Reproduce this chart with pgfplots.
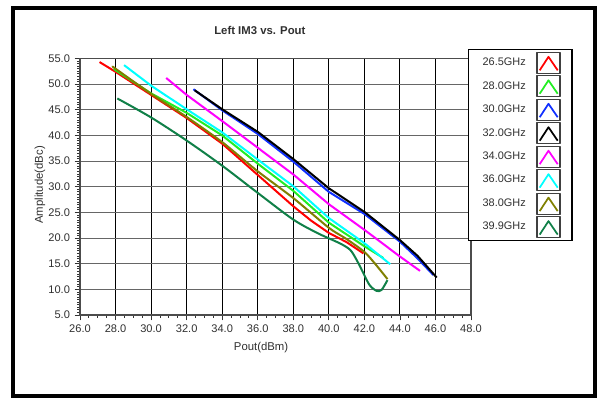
\documentclass[border=0pt]{standalone}
\usepackage{pgfplots}
\pgfplotsset{compat=1.18}
\usepackage{fontspec}
\setmainfont{Liberation Sans}
\definecolor{c1}{HTML}{FF0000}
\definecolor{c2}{HTML}{22EE22}
\definecolor{c3}{HTML}{1030FF}
\definecolor{c4}{HTML}{000000}
\definecolor{c5}{HTML}{FF00FF}
\definecolor{c6}{HTML}{00FFFF}
\definecolor{c7}{HTML}{808000}
\definecolor{c8}{HTML}{108048}
\definecolor{txt}{HTML}{303030}
\begin{document}
\begin{tikzpicture}
\path[use as bounding box] (0pt,0pt) rectangle (448.5pt,298.5pt);
\fill[white] (0pt,0pt) rectangle (448.5pt,298.5pt);
\draw[black, line width=3pt] (9.75pt,1.5pt) rectangle (446.6pt,292.3pt);
\begin{axis}[
  at={(60pt,62.25pt)}, anchor=south west,
  width=293.25pt, height=192.4pt, scale only axis,
  xmin=26, xmax=48, ymin=5, ymax=55,
  xtick={26,28,...,48}, ytick={5,10,...,55},
  minor x tick num=3, minor y tick num=9,
  xmajorgrids, ymajorgrids,
  x grid style={black, line width=0.7pt},
  y grid style={black!60, line width=0.75pt},
  tick align=outside, tick pos=left,
  major tick length=4pt, minor tick length=2pt,
  every tick/.style={black!80, line width=0.6pt},
  axis line style={black!70, line width=0.8pt},
  /pgf/number format/assume math mode=true,
  xticklabel style={/pgf/number format/fixed, /pgf/number format/fixed zerofill, /pgf/number format/precision=1},
  yticklabel style={/pgf/number format/fixed, /pgf/number format/fixed zerofill, /pgf/number format/precision=1},
  ticklabel style={font=\fontsize{8.3}{10}\selectfont, text=txt},
  title={Left IM3 vs. Pout},
  title style={font=\bfseries\fontsize{8.5}{10}\selectfont, text=txt, at={(axis description cs:0.46,1.078)}, anchor=center},
  xlabel={Pout(dBm)},
  xlabel style={font=\fontsize{8.5}{10}\selectfont, text=txt, at={(axis description cs:0.463,-0.1287)}, anchor=center},
  ylabel={Amplitude(dBc)},
  ylabel style={font=\fontsize{8.5}{10}\selectfont, text=txt, at={(axis description cs:-0.1023,0.507)}, anchor=center},
  legend plot pos=right,
  legend cell align=left,
  legend style={at={(axis description cs:0.992,1.037)}, anchor=north west, draw=black, line width=1.1pt, fill=white,
    inner xsep=8.5pt, inner ysep=1.5pt, row sep=0.9pt, column sep=6pt,
    font=\fontsize{8.2}{10}\selectfont, text=txt},
  legend image code/.code={
    \draw[draw=black!75, line width=0.9pt, fill=white, solid] (0pt,-7.9pt) rectangle (17.25pt,7.9pt);
    \draw[#1, line width=1.3pt] (2pt,-5.6pt) -- (8.6pt,4.5pt) -- (15.5pt,-5.6pt);
  },
  every axis plot/.append style={line width=1.5pt, line join=round, no markers},
]
\addplot[c1] coordinates {(27.1,54.3) (28,52.4) (30,47.9) (32,43.4) (34,38.4) (36,32.3) (38,26.2) (39,23.4) (40,21.0) (41,19.2) (41.95,17.0)};
\addlegendentry{26.5GHz}
\addplot[c2] coordinates {(27.9,53.0) (28,52.7) (30,48.2) (32,44.4) (34,40.0) (36,34.5) (38,29.2) (40,23.0) (42,18.4) (43.07,16.1)};
\addlegendentry{28.0GHz}
\addplot[c3] coordinates {(32.38,49.0) (34,44.9) (36,40.3) (38,34.9) (40,29.0) (42,24.7) (44,19.3) (45,16.0) (45.88,12.8)};
\addlegendentry{30.0GHz}
\addplot[c4] coordinates {(32.45,48.8) (34,45.1) (36,40.7) (38,35.4) (40,29.7) (42,25.1) (44,19.6) (45,16.5) (46.07,12.3)};
\addlegendentry{32.0GHz}
\addplot[c5] coordinates {(30.85,51.2) (32,47.9) (34,42.8) (36,37.6) (38,32.4) (40,26.6) (42,21.6) (44,16.4) (45.13,13.6)};
\addlegendentry{34.0GHz}
\addplot[c6] coordinates {(28.48,53.7) (30,49.7) (32,45.1) (34,40.6) (36,35.3) (38,30.1) (40,23.9) (42,19.0) (43.45,14.9)};
\addlegendentry{36.0GHz}
\addplot[c7, smooth, tension=0.4] coordinates {(27.84,53.4) (28,53.0) (30,48.1) (32,43.6) (34,38.7) (36,33.0) (38,27.8) (40,22.0) (41,19.8) (42,17.3) (42.6,15.0) (43.3,12.0)};
\addlegendentry{38.0GHz}
\addplot[c8, smooth, tension=0.5] coordinates {(28.1,47.2) (30,43.5) (32,39.0) (34,34.1) (36,28.8) (38,23.6) (39.4,20.9) (40.6,19.0) (41.2,17.7) (41.57,15.7) (41.95,13.1) (42.3,10.8) (42.69,9.7) (42.97,9.9) (43.3,11.8)};
\addlegendentry{39.9GHz}
\end{axis}
\end{tikzpicture}
\end{document}
